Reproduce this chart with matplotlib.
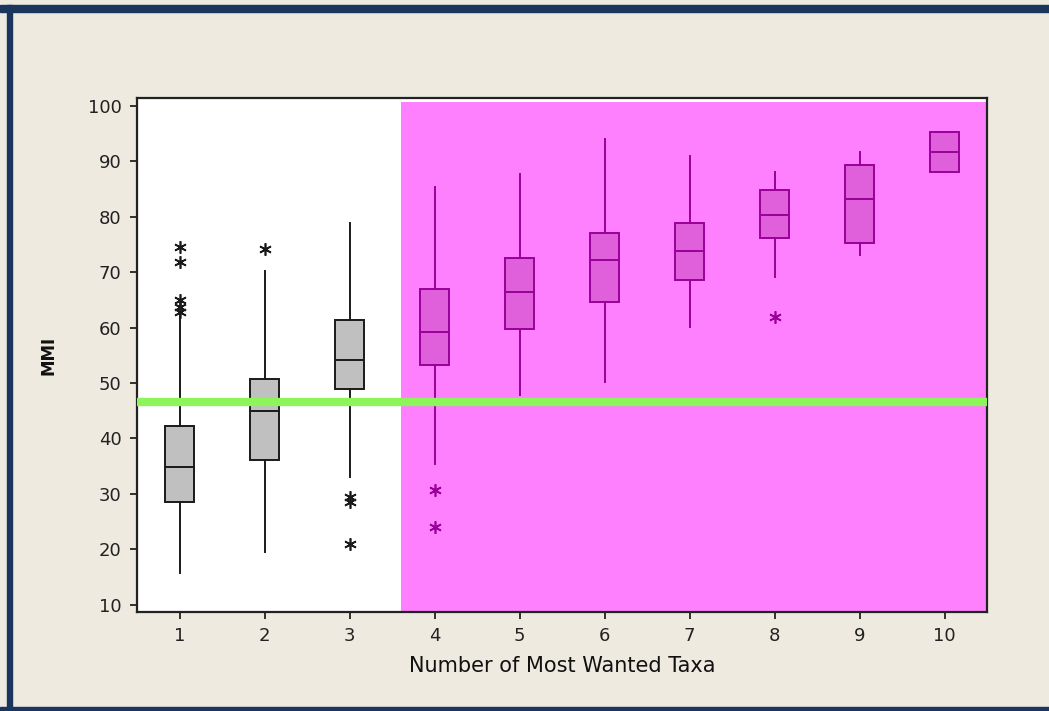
import matplotlib.pyplot as plt
from matplotlib.patches import Rectangle

# number of most wanted taxa
groups = [1, 2, 3, 4, 5, 6, 7, 8, 9, 10]
whislo = [15.7, 19.5, 33.0, 35.4, 47.8, 50.2, 60.1, 69.1, 73.1, 88.1]
q1 = [28.5, 36.1, 48.9, 53.2, 59.7, 64.6, 68.6, 76.2, 75.3, 88.1]
med = [34.8, 44.9, 54.2, 59.2, 66.4, 72.2, 73.8, 80.3, 83.2, 91.7]
q3 = [42.2, 50.7, 61.4, 67.0, 72.6, 77.1, 78.9, 84.8, 89.4, 95.3]
whishi = [62.3, 70.2, 78.9, 85.4, 87.7, 94.0, 91.0, 88.1, 91.7, 95.3]
fliers = [[74.5, 71.8, 65.0, 63.7, 62.8], [74.2], [29.4, 28.6, 20.9],
          [30.7, 24.0], [], [], [], [61.9], [], []]
threshold = 46.6

bg = '#EEEAE0'
navy = '#1B365D'
magenta = '#FF80FF'

fig = plt.figure(figsize=(10.49, 7.11), dpi=100, facecolor=bg)
# window frame
fig.patches.append(Rectangle((0, 1 - 12 / 711), 1, 7 / 711, transform=fig.transFigure, color=navy, zorder=0))
fig.patches.append(Rectangle((7 / 1049, 0), 5 / 1049, 1 - 5 / 711, transform=fig.transFigure, color=navy, zorder=0))
fig.patches.append(Rectangle((0, 0), 1, 4 / 711, transform=fig.transFigure, color=navy, zorder=0))

ax = fig.add_axes([137 / 1049, 1 - 612 / 711, (987 - 137) / 1049, (612 - 98) / 711])
ax.set_facecolor('white')
ax.set_xlim(0.5, 10.5)
ax.set_ylim(8.7, 101.4)

ax.add_patch(Rectangle((3.6, 8.7), 7.0, 100.7 - 8.7, facecolor=magenta, edgecolor='none', zorder=0))

stats = []
for i in range(len(groups)):
    stats.append(dict(whislo=whislo[i], q1=q1[i], med=med[i], q3=q3[i],
                      whishi=whishi[i], fliers=fliers[i]))

for i, s in enumerate(stats):
    if groups[i] <= 3:
        fc, ec = '#C0C0C0', '#1a1a1a'
    else:
        fc, ec = '#E060DC', '#990099'
    ax.bxp([s], positions=[groups[i]], widths=0.33, patch_artist=True, showcaps=False,
           boxprops=dict(facecolor=fc, edgecolor=ec, linewidth=1.4),
           medianprops=dict(color=ec, linewidth=1.4),
           whiskerprops=dict(color=ec, linewidth=1.4),
           flierprops=dict(marker=(6, 2, 0), markersize=9, markeredgecolor=ec,
                           markerfacecolor=ec, markeredgewidth=1.2))

ax.axhline(threshold, color='#8CF55A', linewidth=6, zorder=5)

ax.set_xticks(groups)
ax.set_xticklabels([str(g) for g in groups])
ax.set_yticks(range(10, 101, 10))
ax.tick_params(direction='out', length=5, width=1.3, labelsize=13, colors='#222222', pad=6)
for sp in ax.spines.values():
    sp.set_linewidth(1.6)
    sp.set_color('#222222')

ax.set_xlabel('Number of Most Wanted Taxa', fontsize=15, labelpad=8, color='#111111')
ax.set_ylabel('MMI', fontsize=12, fontweight='bold', labelpad=22, color='#111111')

fig.savefig('out.png', dpi=100, facecolor=bg)
